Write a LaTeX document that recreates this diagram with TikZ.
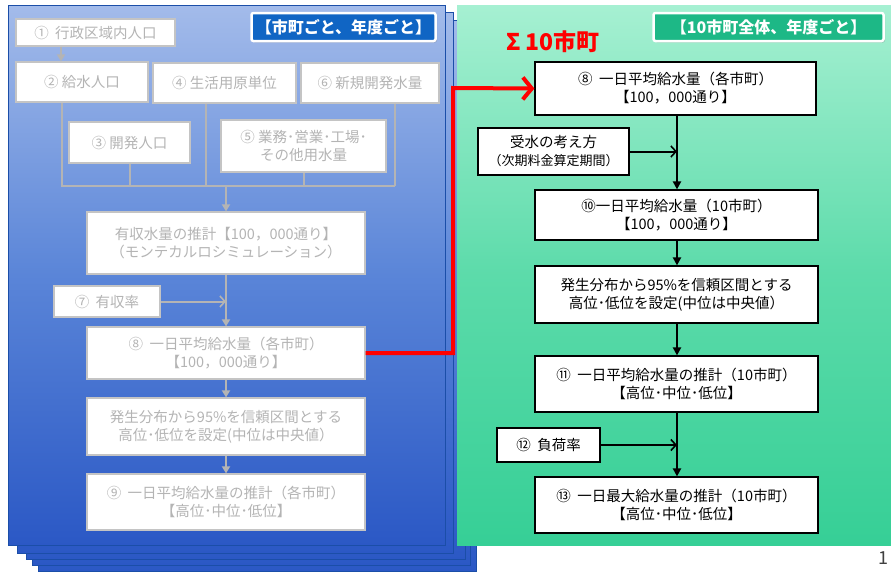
\documentclass[tikz,border=0pt]{standalone}
\usepackage{fontspec}
\setmainfont{Noto Sans CJK JP}
\usetikzlibrary{arrows.meta,shadows}
\definecolor{bluetop}{HTML}{A3BBEA}
\definecolor{bluemid}{HTML}{5A85D8}
\definecolor{bluebot}{HTML}{2B58C5}
\definecolor{blueedge}{HTML}{1B4EA8}
\definecolor{greentop}{HTML}{A6F0D2}
\definecolor{greenmid}{HTML}{5CDBAA}
\definecolor{greenbot}{HTML}{36CF96}
\definecolor{lgray}{HTML}{B4B4B4}
\definecolor{lborder}{HTML}{C4C4C4}
\definecolor{tagblue}{HTML}{1065C4}
\definecolor{taggreen}{HTML}{1DB886}
\definecolor{redline}{HTML}{FF0000}
\tikzset{
  lbox/.style={draw=lborder, line width=1.2pt, fill=white, text=lgray, align=center,
    font=\fontsize{14.5}{18}\selectfont, inner sep=0pt},
  rbox/.style={draw=black, line width=1.2pt, fill=white, text=black, align=center,
    font=\fontsize{14.5}{18}\selectfont, inner sep=0pt},
  gline/.style={draw=lgray, line width=2pt},
  garrow/.style={gline, -{Triangle[length=7pt,width=8pt]}},
  gbarb/.style={gline, -{Straight Barb[length=5pt,width=11pt,line width=1.6pt]}},
  bline/.style={draw=black, line width=2pt},
  barrow/.style={bline, -{Triangle[length=8pt,width=8pt]}},
  bbarb/.style={bline, -{Straight Barb[length=5pt,width=11pt,line width=1.6pt]}},
  layer/.style={draw=blueedge, line width=1pt, top color=bluetop, bottom color=bluebot, middle color=bluemid},
  tag/.style={draw=white, line width=2.5pt, rounded corners=2pt, text=white,
    font=\fontsize{16}{18}\selectfont\bfseries, inner sep=0pt,
    drop shadow={shadow xshift=1.5pt, shadow yshift=-1.5pt, opacity=0.35}},
}
\begin{document}
\begin{tikzpicture}[x=1pt,y=-1pt]
\useasboundingbox (0,0) rectangle (891,576);
\fill[white] (0,0) rectangle (891,576);
% blue stacked panels
\draw[layer] (38,30) rectangle (476,571);
\draw[layer] (32,25) rectangle (470,565);
\draw[layer] (26,20) rectangle (465,559);
\draw[layer] (17,12) rectangle (453,553);
\draw[layer] (8,5) rectangle (445,545);
% green panel
\fill[top color=greentop, bottom color=greenbot, middle color=greenmid] (457,5) rectangle (893,545);
% tags
\node[tag, fill=tagblue, minimum width=184pt, minimum height=28pt] (tagL) at (343.5,27) {【市町ごと、年度ごと】};
\node[tag, fill=taggreen, minimum width=230pt, minimum height=28pt] (tagR) at (768.5,27) {【10市町全体、年度ごと】};
% left nodes
\node[lbox, minimum width=159pt, minimum height=27pt] (n1) at (95.5,32.5) {①\ \ 行政区域内人口};
\node[lbox, minimum width=132pt, minimum height=40pt] (n2) at (82,82) {② 給水人口};
\node[lbox, minimum width=143pt, minimum height=40pt] (n4) at (224.5,83) {④ 生活用原単位};
\node[lbox, minimum width=138pt, minimum height=40pt] (n6) at (370,83) {⑥ 新規開発水量};
\node[lbox, minimum width=121pt, minimum height=41pt] (n3) at (129.5,142.5) {③ 開発人口};
\node[lbox, minimum width=165pt, minimum height=52pt] (n5) at (303.5,146) {⑤ 業務･営業･工場･\\その他用水量};
\node[lbox, minimum width=278pt, minimum height=62pt] (est) at (226,243) {有収水量の推計【100，000通り】\\（モンテカルロシミュレーション）};
\node[lbox, minimum width=106pt, minimum height=31pt] (n7) at (107,301.5) {⑦\ \ 有収率};
\node[lbox, minimum width=278pt, minimum height=52pt] (L8) at (226,353) {⑧\ \ 一日平均給水量（各市町）\\【100，000通り】};
\node[lbox, minimum width=278pt, minimum height=57pt] (Ld) at (226,426.5) {発生分布から95\%を信頼区間とする\\高位･低位を設定(中位は中央値）};
\node[lbox, minimum width=278pt, minimum height=56pt] (L9) at (226,502) {⑨\ \ 一日平均給水量の推計（各市町）\\【高位･中位･低位】};
% left connectors
\coordinate (bus) at (226,186);
\draw[garrow] (61,0 |- n1.south) -- (61,0 |- n2.north);
\draw[gline] (62,0 |- n2.south) -- (62,186) -- (395,186);
\draw[gline] (130,0 |- n3.south) -- (130,186);
\draw[gline] (206,0 |- n4.south) -- (206,186);
\draw[gline] (304,0 |- n5.south) -- (304,186);
\draw[gline] (395,0 |- n6.south) -- (395,186);
\draw[garrow] (bus) -- (est.north);
\draw[garrow] (est.south) -- (L8.north);
\draw[gbarb] (n7.east) -- (est.south |- n7.east);
\draw[garrow] (L8.south) -- (Ld.north);
\draw[garrow] (Ld.south) -- (L9.north);
% right nodes
\node[rbox, minimum width=281pt, minimum height=53pt] (R8) at (675.5,88.5) {⑧\ \ 一日平均給水量（各市町）\\【100，000通り】};
\node[rbox, minimum width=151pt, minimum height=47pt] (Rr) at (553.5,151.5) {受水の考え方\\{\fontsize{13}{16}\selectfont（次期料金算定期間）}};
\node[rbox, minimum width=283pt, minimum height=50pt] (R10) at (676.5,215) {⑩一日平均給水量（10市町）\\【100，000通り】};
\node[rbox, minimum width=283pt, minimum height=57pt] (Rd) at (676.5,294.5) {発生分布から95\%を信頼区間とする\\高位･低位を設定(中位は中央値）};
\node[rbox, minimum width=283pt, minimum height=56pt] (R11) at (676.5,384) {⑪\ \ 一日平均給水量の推計（10市町）\\【高位･中位･低位】};
\node[rbox, minimum width=103pt, minimum height=34pt] (R12) at (548.5,445) {⑫\ \ 負荷率};
\node[rbox, minimum width=283pt, minimum height=56pt] (R13) at (676.5,505) {⑬\ \ 一日最大給水量の推計（10市町）\\【高位･中位･低位】};
% right connectors
\draw[barrow] (677,0 |- R8.south) -- (677,0 |- R10.north);
\draw[bbarb] (Rr.east) -- (677,0 |- Rr.east);
\draw[barrow] (677,0 |- R10.south) -- (677,0 |- Rd.north);
\draw[barrow] (677,0 |- Rd.south) -- (677,0 |- R11.north);
\draw[barrow] (677,0 |- R11.south) -- (677,0 |- R13.north);
\draw[bbarb] (R12.east) -- (677,0 |- R12.east);
% red link
\draw[draw=redline, line width=4pt, -{Straight Barb[length=9pt,width=22pt,line width=4pt]}]
  (L8.east) -- (453,0 |- L8.east) -- (453,88) -- (R8.west);
\node[text=redline, font=\fontsize{23}{25}\selectfont\bfseries, inner sep=0pt] (sigma) at (553,42) {Σ 10市町};
\node[anchor=east, text=black!75, font=\fontsize{18}{20}\selectfont, inner sep=0pt] (pg) at (889,558) {1};
\end{tikzpicture}
\end{document}
